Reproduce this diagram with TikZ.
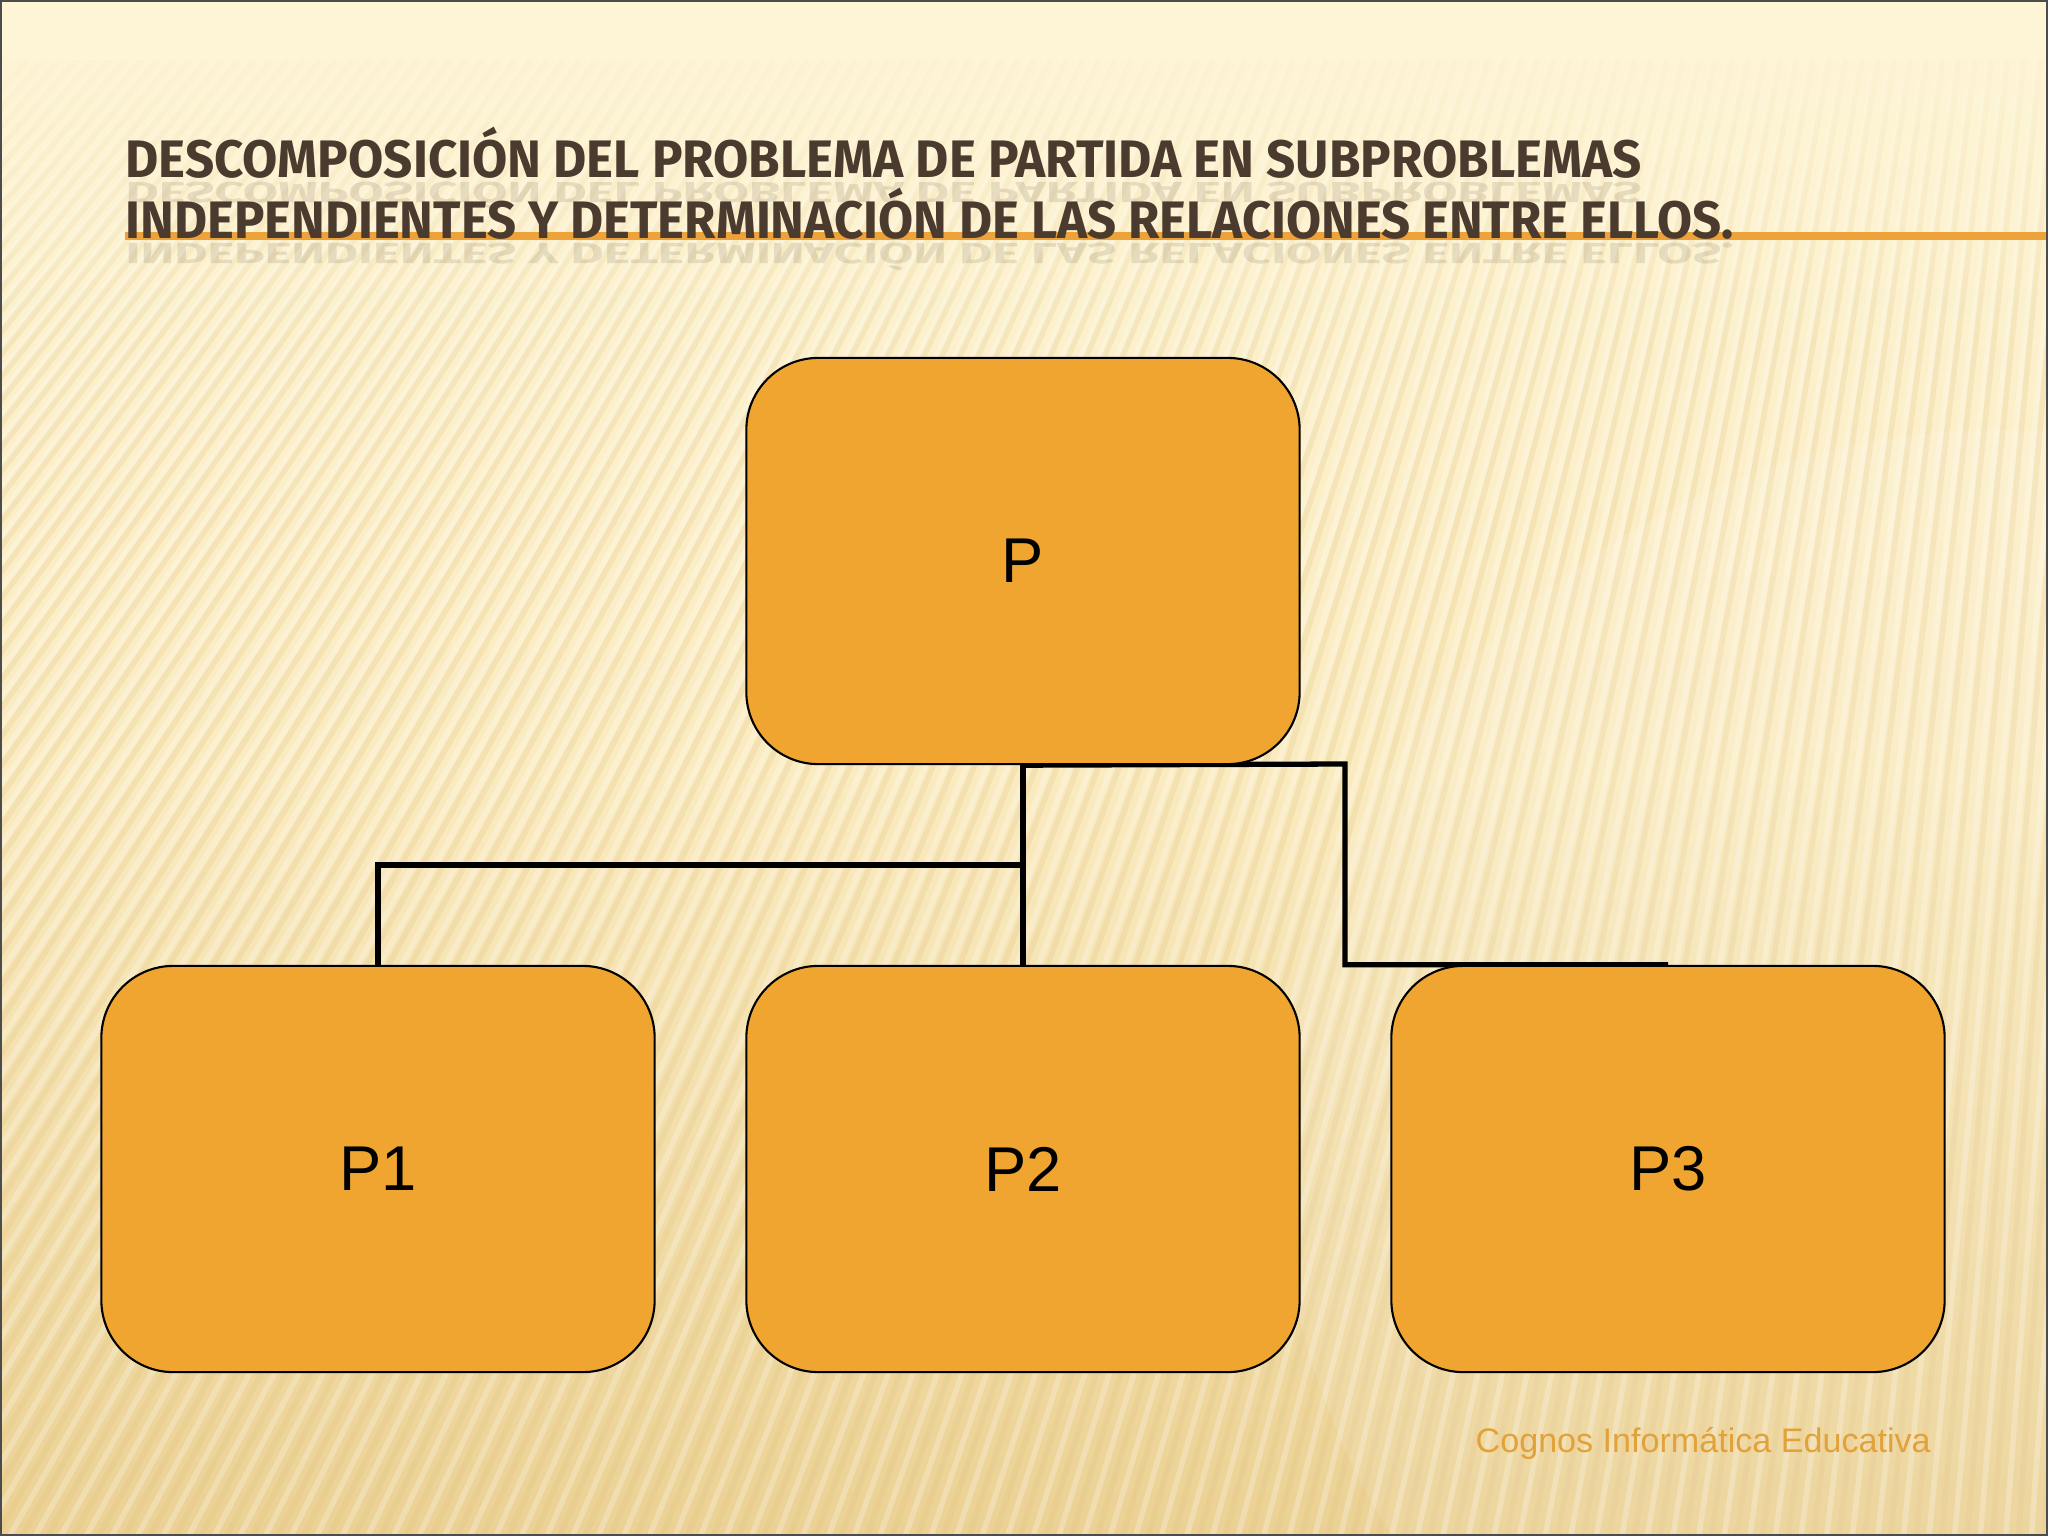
\documentclass[tikz,border=0pt]{standalone}
\usepackage{fontspec}
\setmainfont{Liberation Sans}
\newfontfamily\titlefont{Fira Sans}
\usetikzlibrary{fadings}
\pgfdeclarelayer{back}
\pgfdeclarelayer{lines}
\pgfsetlayers{back,lines,main}
\definecolor{boxorange}{HTML}{F0A530}
\definecolor{titlebrown}{HTML}{4B3A2E}
\definecolor{footorange}{HTML}{E2A23A}
\definecolor{bgtop}{HTML}{FEF5D6}
\definecolor{bgmid}{HTML}{FAEBC0}
\definecolor{bgbot}{HTML}{EBD194}
\definecolor{stripedark}{HTML}{E0C07E}
\definecolor{rule}{HTML}{EEA23A}
\tikzset{
  probbox/.style={draw=black, line width=0.6pt, fill=boxorange, rounded corners=0.72cm,
    minimum width=5.53cm, minimum height=4.06cm, inner sep=0pt,
    font=\fontsize{18}{21}\selectfont},
  link/.style={draw=black, line width=1.5pt},
  titleline/.style={anchor=base west, inner sep=0pt, text=titlebrown,
    font=\titlefont\bfseries\fontsize{15}{18}\selectfont},
  reflect/.style={anchor=north west, inner sep=0pt, text=titlebrown, text opacity=0.13,
    font=\titlefont\bfseries\fontsize{15}{18}\selectfont},
  stripe/.style={line width=1.6pt, stripedark, opacity=0.22},
  stripelight/.style={line width=1.6pt, white, opacity=0.25}
}
\newcommand{\tlA}{DESCOMPOSICIÓN DEL PROBLEMA DE PARTIDA EN SUBPROBLEMAS}
\newcommand{\tlB}{INDEPENDIENTES Y DETERMINACIÓN DE LAS RELACIONES ENTRE ELLOS.}
\begin{document}
\begin{tikzpicture}[x=0.01cm, y=-0.01cm]
\useasboundingbox (0,0) rectangle (2048,1536);
\begin{pgfonlayer}{back}
  \shade[top color=bgtop, bottom color=bgbot, middle color=bgmid] (0,0) rectangle (2048,1536);
  \begin{scope}
    \clip (0,60) rectangle (2048,1536);
    \foreach \i in {0,...,132} {
      \pgfmathsetmacro\xb{-1340+26*\i}
      \draw[stripe] (\xb,1600) -- (2300,-2500);
      \draw[stripelight] (\xb+13,1600) -- (2313,-2500);
    }
    \fill[white, opacity=0.10] (2000,1150) circle (720);
  \end{scope}
  \fill[bgtop, path fading=south] (0,0) rectangle (2048,330);
  \fill[bgtop] (0,0) rectangle (2048,60);
  \draw[rule, line width=2pt] (125,236) -- (2048,236);
  \node[titleline] (t1) at (125,177) {\resizebox{15.15cm}{\height}{\tlA}};
  \node[titleline] (t2) at (125,238) {\resizebox{16.07cm}{\height}{\tlB}};
  \node[reflect] (r1) at (125,181) {\scalebox{1}[-0.55]{\resizebox{15.15cm}{\height}{\tlA}}};
  \node[reflect] (r2) at (125,242) {\scalebox{1}[-0.55]{\resizebox{16.07cm}{\height}{\tlB}}};
  \node[anchor=base west, inner sep=0pt, text=footorange, font=\fontsize{9.7}{12}\selectfont]
    (foot) at (1475,1452) {Cognos Informática Educativa};
\end{pgfonlayer}

\node[probbox] (P)  at (1023,561)  {P};
\node[probbox] (P1) at (378,1169)  {P1};
\node[probbox] (P2) at (1023,1169) {P2};
\node[probbox] (P3) at (1668,1169) {P3};

\coordinate (jl) at (1023,865);
\coordinate (jr) at (1345,764);
\begin{pgfonlayer}{lines}
  \draw[link] (P.south) -- (P2.north);
  \draw[link] (jl) -| (P1.north);
  \draw[link] (P.south) -- (jr) |- (P3.north);
\end{pgfonlayer}

\draw[line width=1pt, black!70] (0,0) rectangle (2048,1536);
\end{tikzpicture}
\end{document}
